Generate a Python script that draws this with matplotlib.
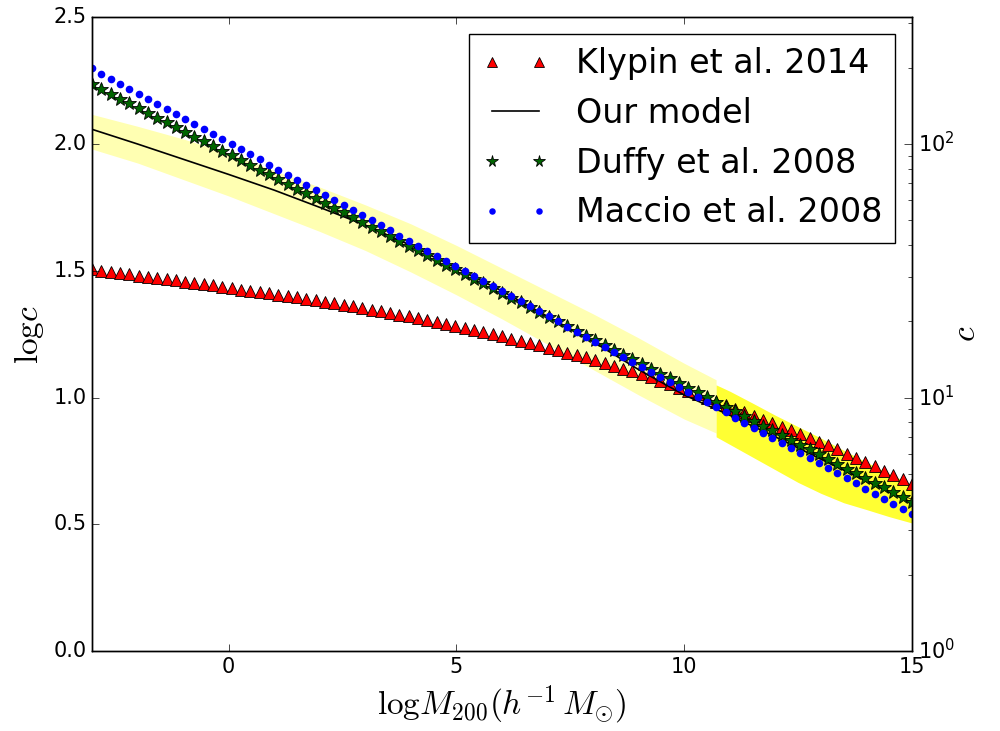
import numpy as np
import matplotlib
matplotlib.use('Agg')
import matplotlib.pyplot as plt

plt.style.use('classic')
plt.rcParams['mathtext.fontset'] = 'cm'
plt.rcParams['font.family'] = ['DejaVu Sans']

# log M200 grid of the comparison relations
logm = np.linspace(-3, 15, 89)

klypin = [1.505, 1.500, 1.496, 1.491, 1.486, 1.481, 1.477, 1.472, 1.467, 1.462,
          1.457, 1.452, 1.447, 1.442, 1.437, 1.431, 1.426, 1.421, 1.416, 1.411,
          1.406, 1.400, 1.395, 1.389, 1.383, 1.378, 1.372, 1.366, 1.360, 1.354,
          1.347, 1.340, 1.333, 1.327, 1.320, 1.312, 1.305, 1.297, 1.289, 1.282,
          1.274, 1.266, 1.257, 1.249, 1.241, 1.232, 1.223, 1.215, 1.206, 1.197,
          1.187, 1.177, 1.167, 1.158, 1.148, 1.137, 1.125, 1.114, 1.103, 1.092,
          1.079, 1.065, 1.052, 1.039, 1.026, 1.012, 0.998, 0.983, 0.969, 0.955,
          0.941, 0.927, 0.913, 0.899, 0.884, 0.870, 0.855, 0.841, 0.826, 0.811,
          0.795, 0.779, 0.763, 0.747, 0.730, 0.712, 0.695, 0.678, 0.660]

duffy = [2.235, 2.216, 2.198, 2.179, 2.160, 2.142, 2.123, 2.104, 2.085, 2.067,
         2.048, 2.029, 2.011, 1.992, 1.973, 1.955, 1.936, 1.917, 1.898, 1.880,
         1.861, 1.842, 1.824, 1.805, 1.786, 1.768, 1.749, 1.730, 1.711, 1.693,
         1.674, 1.655, 1.637, 1.618, 1.599, 1.581, 1.562, 1.543, 1.524, 1.506,
         1.487, 1.468, 1.450, 1.431, 1.412, 1.394, 1.375, 1.356, 1.337, 1.319,
         1.300, 1.281, 1.263, 1.244, 1.225, 1.207, 1.188, 1.169, 1.150, 1.132,
         1.113, 1.094, 1.076, 1.057, 1.038, 1.020, 1.001, 0.982, 0.963, 0.945,
         0.926, 0.907, 0.889, 0.870, 0.851, 0.833, 0.814, 0.795, 0.776, 0.758,
         0.739, 0.720, 0.702, 0.683, 0.664, 0.646, 0.627, 0.608, 0.589]

maccio = [2.298, 2.278, 2.258, 2.238, 2.218, 2.198, 2.178, 2.158, 2.138, 2.118,
          2.098, 2.078, 2.058, 2.039, 2.019, 1.999, 1.979, 1.959, 1.939, 1.919,
          1.899, 1.879, 1.859, 1.839, 1.819, 1.799, 1.779, 1.759, 1.739, 1.719,
          1.699, 1.679, 1.659, 1.639, 1.619, 1.599, 1.579, 1.559, 1.540, 1.520,
          1.500, 1.480, 1.460, 1.440, 1.420, 1.400, 1.380, 1.360, 1.340, 1.320,
          1.300, 1.280, 1.260, 1.240, 1.220, 1.200, 1.180, 1.160, 1.140, 1.120,
          1.100, 1.080, 1.060, 1.041, 1.021, 1.001, 0.981, 0.961, 0.941, 0.921,
          0.901, 0.881, 0.861, 0.841, 0.821, 0.801, 0.781, 0.761, 0.741, 0.721,
          0.701, 0.681, 0.661, 0.641, 0.621, 0.601, 0.581, 0.561, 0.541]

# our model and its scatter
model_m = [-3, -2, -1, 0, 1, 2, 3, 4, 5, 6, 7, 8, 9, 10, 11, 12, 13, 14, 15]
model_c = [2.058, 2.0, 1.94, 1.88, 1.818, 1.75, 1.68, 1.60, 1.51, 1.42,
           1.32, 1.22, 1.11, 1.01, 0.93, 0.845, 0.757, 0.67, 0.585]

band_m = [-3, -2, -1, 0, 1, 2, 3, 4, 5, 6, 7, 8, 9, 10, 10.7]
band_hi = [2.117, 2.07, 2.02, 1.965, 1.895, 1.83, 1.76, 1.685, 1.60, 1.51,
           1.42, 1.33, 1.235, 1.135, 1.07]
band_lo = [1.98, 1.925, 1.86, 1.795, 1.725, 1.655, 1.58, 1.495, 1.405, 1.31,
           1.21, 1.11, 1.01, 0.915, 0.86]

sim_m = [10.7, 11, 11.5, 12, 12.5, 13, 13.5, 14, 14.5, 15]
sim_hi = [1.05, 1.025, 0.978, 0.93, 0.885, 0.84, 0.792, 0.745, 0.70, 0.655]
sim_lo = [0.845, 0.815, 0.765, 0.715, 0.665, 0.622, 0.585, 0.558, 0.530, 0.505]

fig = plt.figure(figsize=(10, 7.31), dpi=100, facecolor='white')
ax = fig.add_axes([0.092, 0.1094, 0.82, 0.867])

ax.fill_between(band_m, band_lo, band_hi, color='yellow', alpha=0.3, lw=0)
ax.fill_between(sim_m, sim_lo, sim_hi, color='yellow', alpha=0.8, lw=0)

ax.plot(logm, klypin, 'r^', ms=8.5, mec='k', mew=0.6, label='Klypin et al. 2014')
ax.plot(model_m, model_c, 'k-', lw=1.2, label='Our model')
ax.plot(logm, duffy, '*', color='#006400', ms=10, mec='k', mew=0.6, label='Duffy et al. 2008')
ax.plot(logm, maccio, 'o', color='b', ms=5.5, mec='b', mew=0, label='Maccio et al. 2008')

ax.set_xlim(-3, 15)
ax.set_ylim(0, 2.5)
ax.set_xticks([0, 5, 10, 15])
ax.set_yticks([0.0, 0.5, 1.0, 1.5, 2.0, 2.5])
ax.tick_params(labelsize=15, direction='in', length=5)
ax.set_xlabel(r'$\mathrm{log}M_{200}(h^{-1}\,M_{\odot})$', fontsize=24)
ax.set_ylabel(r'$\mathrm{log}c$', fontsize=24)

leg = ax.legend(loc='upper right', numpoints=2, fontsize=24, handlelength=2,
                fancybox=False, framealpha=1, edgecolor='k', markerscale=0.85)

ax2 = ax.twinx()
ax2.set_yscale('log')
ax2.set_ylim(1, 10 ** 2.5)
ax2.tick_params(which='major', labelsize=15, direction='in', length=6)
ax2.tick_params(which='minor', direction='in', length=3)
ax2.set_ylabel(r'$c$', fontsize=24, labelpad=-4)

fig.savefig('out.png', dpi=100, facecolor='white')
